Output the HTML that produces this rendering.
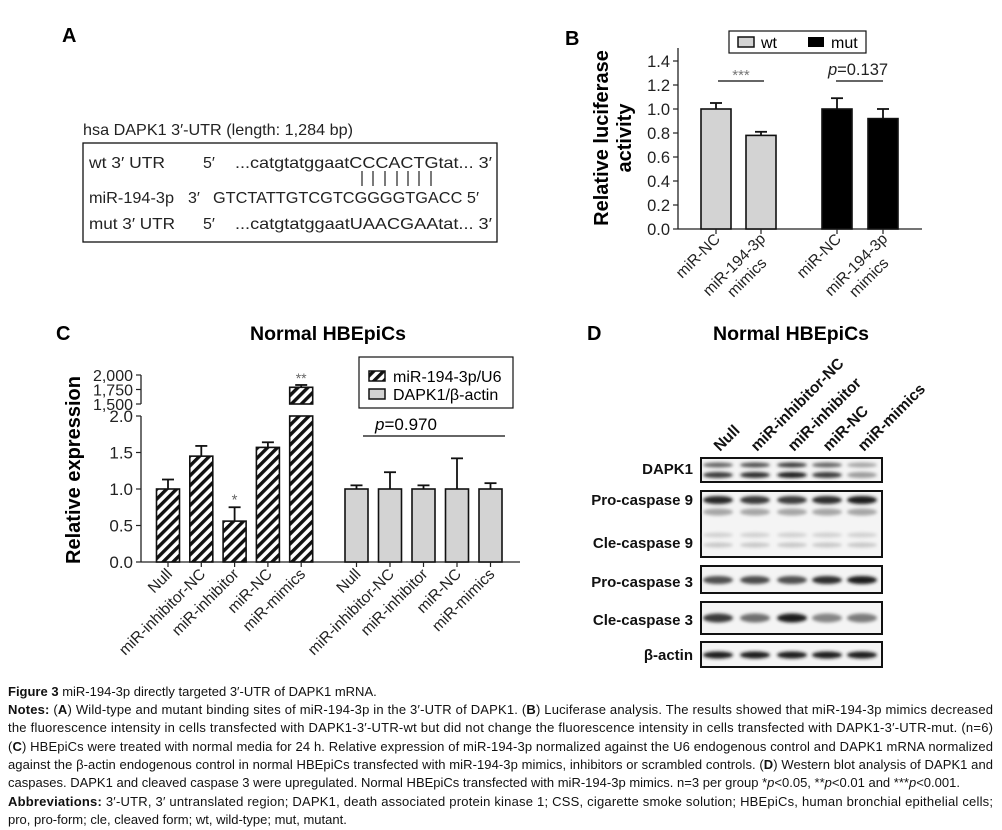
<!DOCTYPE html>
<html><head><meta charset="utf-8">
<style>
html,body{margin:0;padding:0;background:#fff;}
body{width:1002px;height:830px;position:relative;overflow:hidden;font-family:"Liberation Sans",sans-serif;}
</style></head>
<body>
<svg id="fig" width="1002" height="830" style="position:absolute;left:0;top:0" font-family="Liberation Sans, sans-serif">
<defs>
<pattern id="hatch" width="7" height="7" patternUnits="userSpaceOnUse" patternTransform="rotate(45)">
<rect width="7" height="7" fill="#fff"/><rect width="3.4" height="7" fill="#111"/>
</pattern>
<filter id="blur" x="-20%" y="-100%" width="140%" height="300%"><feGaussianBlur stdDeviation="1.6"/></filter>
</defs>

<!-- Panel A -->
<g>
<text x="62" y="42" font-size="20" font-weight="bold">A</text>
<text x="83" y="135" font-size="16" fill="#222" textLength="270" lengthAdjust="spacingAndGlyphs">hsa DAPK1 3′-UTR (length: 1,284 bp)</text>
<rect x="83" y="143" width="414" height="99" fill="none" stroke="#111" stroke-width="1.3"/>
<g font-size="16" fill="#222">
<text x="89" y="168" textLength="76" lengthAdjust="spacingAndGlyphs">wt 3′  UTR</text>
<text x="203" y="168">5′</text>
<text x="235" y="168" textLength="257" lengthAdjust="spacingAndGlyphs">...catgtatggaatCCCACTGtat... 3′</text>
<text x="89" y="203" textLength="85" lengthAdjust="spacingAndGlyphs">miR-194-3p</text>
<text x="188" y="203">3′</text>
<text x="213" y="203" textLength="266" lengthAdjust="spacingAndGlyphs">GTCTATTGTCGTCGGGGTGACC 5′</text>
<text x="89" y="229" textLength="86" lengthAdjust="spacingAndGlyphs">mut 3′  UTR</text>
<text x="203" y="229">5′</text>
<text x="235" y="229" textLength="257" lengthAdjust="spacingAndGlyphs">...catgtatggaatUAACGAAtat... 3′</text>
</g>
<g stroke="#222" stroke-width="1.2">
<line x1="362" y1="171" x2="362" y2="186"/><line x1="373" y1="171" x2="373" y2="186"/><line x1="385" y1="171" x2="385" y2="186"/><line x1="397" y1="171" x2="397" y2="186"/><line x1="408" y1="171" x2="408" y2="186"/><line x1="419" y1="171" x2="419" y2="186"/><line x1="431" y1="171" x2="431" y2="186"/>
</g>
</g>

<!-- Panel B -->
<g id="pb">
<text x="565" y="45" font-size="20" font-weight="bold">B</text>
<rect x="729" y="31" width="137" height="22" fill="#fff" stroke="#111" stroke-width="1.2"/>
<rect x="738" y="37" width="16" height="10" fill="#d3d3d3" stroke="#111" stroke-width="1.5"/>
<text x="761" y="48" font-size="16">wt</text>
<rect x="808" y="37" width="16" height="10" fill="#000"/>
<text x="831" y="48" font-size="16">mut</text>
<text transform="translate(618,138) rotate(-90)" text-anchor="middle" font-size="20" font-weight="bold"><tspan x="0" y="-10">Relative luciferase</tspan><tspan x="0" y="13">activity</tspan></text>
</g>

<!-- Panel C -->
<g id="pc">
<text x="56" y="340" font-size="20" font-weight="bold">C</text>
<text x="328" y="340" text-anchor="middle" font-size="19.5" font-weight="bold">Normal HBEpiCs</text>
<text transform="translate(80,470) rotate(-90)" text-anchor="middle" font-size="20" font-weight="bold">Relative expression</text>
<rect x="359" y="357" width="154" height="51" fill="#fff" stroke="#111" stroke-width="1.2"/>
<rect x="369" y="371" width="16" height="10" fill="url(#hatch)" stroke="#111" stroke-width="1.5"/>
<text x="393" y="382" font-size="16">miR-194-3p/U6</text>
<rect x="369" y="389" width="16" height="10" fill="#d3d3d3" stroke="#111" stroke-width="1.5"/>
<text x="393" y="400" font-size="16">DAPK1/β-actin</text>
<line x1="363" y1="436" x2="505" y2="436" stroke="#333" stroke-width="1.5"/>
<text x="406" y="430" text-anchor="middle" font-size="17"><tspan font-style="italic">p</tspan>=0.970</text>
</g>

<!-- Panel D -->
<g id="pd">
<text x="587" y="340" font-size="20" font-weight="bold">D</text>
<text x="791" y="340" text-anchor="middle" font-size="19.5" font-weight="bold">Normal HBEpiCs</text>
</g>

<!-- Caption -->
<g id="cap" font-size="13" fill="#111">
<text x="8" y="696"><tspan font-weight="bold">Figure 3</tspan> miR-194-3p directly targeted 3′-UTR of DAPK1 mRNA.</text>
<text x="8" y="714" textLength="985" lengthAdjust="spacing"><tspan font-weight="bold">Notes:</tspan> (<tspan font-weight="bold">A</tspan>) Wild-type and mutant binding sites of miR-194-3p in the 3′-UTR of DAPK1. (<tspan font-weight="bold">B</tspan>) Luciferase analysis. The results showed that miR-194-3p mimics decreased</text>
<text x="8" y="732" textLength="985" lengthAdjust="spacing">the fluorescence intensity in cells transfected with DAPK1-3′-UTR-wt but did not change the fluorescence intensity in cells transfected with DAPK1-3′-UTR-mut. (n=6)</text>
<text x="8" y="751" textLength="985" lengthAdjust="spacing">(<tspan font-weight="bold">C</tspan>) HBEpiCs were treated with normal media for 24 h. Relative expression of miR-194-3p normalized against the U6 endogenous control and DAPK1 mRNA normalized</text>
<text x="8" y="769" textLength="985" lengthAdjust="spacing">against the β-actin endogenous control in normal HBEpiCs transfected with miR-194-3p mimics, inhibitors or scrambled controls. (<tspan font-weight="bold">D</tspan>) Western blot analysis of DAPK1 and</text>
<text x="8" y="787" textLength="952" lengthAdjust="spacing">caspases. DAPK1 and cleaved caspase 3 were upregulated. Normal HBEpiCs transfected with miR-194-3p mimics. n=3 per group *<tspan font-style="italic">p</tspan>&lt;0.05, **<tspan font-style="italic">p</tspan>&lt;0.01 and ***<tspan font-style="italic">p</tspan>&lt;0.001.</text>
<text x="8" y="806" textLength="985" lengthAdjust="spacing"><tspan font-weight="bold">Abbreviations:</tspan> 3′-UTR, 3′ untranslated region; DAPK1, death associated protein kinase 1; CSS, cigarette smoke solution; HBEpiCs, human bronchial epithelial cells;</text>
<text x="8" y="824">pro, pro-form; cle, cleaved form; wt, wild-type; mut, mutant.</text>
</g>
</svg>

<script>
const NS='http://www.w3.org/2000/svg';
function mk(parent,tag,attrs,txt){const e=document.createElementNS(NS,tag);for(const k in attrs)e.setAttribute(k,attrs[k]);if(txt!==undefined)e.textContent=txt;parent.appendChild(e);return e;}

// ---- Panel B data ----
const bTicks=[0.0,0.2,0.4,0.6,0.8,1.0,1.2,1.4];
const bWt=[1.0,0.78];
const bWtErr=[0.05,0.03];
const bMut=[1.0,0.92];
const bMutErr=[0.09,0.08];
const bCats=['miR-NC','miR-194-3p|mimics'];

// ---- Panel C data ----
const cCats=['Null','miR-inhibitor-NC','miR-inhibitor','miR-NC','miR-mimics'];
const cMir=[1.0,1.45,0.56,1.57,1788];
const cMirErr=[0.13,0.14,0.19,0.07,40];
const cDapk=[1.0,1.0,1.0,1.0,1.0];
const cDapkErr=[0.05,0.23,0.05,0.42,0.08];
const cTicks=[0.0,0.5,1.0,1.5,2.0];
const cUpperTicks=[1500,1750,2000];
const cUpperLabels=['1,500','1,750','2,000'];
const cStars=['','','*','','**'];

// ---- Panel D data ----
const dLanes=['Null','miR-inhibitor-NC','miR-inhibitor','miR-NC','miR-mimics'];
const dRows=['DAPK1','Pro-caspase 9','Cle-caspase 9','Pro-caspase 3','Cle-caspase 3','β-actin'];
const dDapkUpper=[0.6,0.7,0.8,0.6,0.3];
const dDapkLower=[0.8,0.85,0.95,0.8,0.35];
const dPro9=[0.9,0.8,0.78,0.85,0.95];
const dPro3=[0.7,0.72,0.7,0.85,0.95];
const dCle3=[0.8,0.55,0.95,0.45,0.5];
const dActin=[0.95,0.95,0.95,0.95,0.95];

// ===== Panel B =====
(function(){
  const g=document.getElementById('pb');
  const y=v=>229-v*120;
  const ax=678;
  mk(g,'line',{x1:ax,y1:48,x2:ax,y2:229,stroke:'#222','stroke-width':1.3});
  let e=mk(g,'line',{x1:ax,y1:229,x2:922,y2:229,stroke:'#222','stroke-width':1.3});
  
  
  bTicks.forEach(t=>{
    mk(g,'line',{x1:ax-5,y1:y(t),x2:ax,y2:y(t),stroke:'#222','stroke-width':1.2});
    const l=mk(g,'text',{x:ax-8,y:y(t)+6,'text-anchor':'end','font-size':16.5,fill:'#222'},t.toFixed(1));
    
    
  });
  const xs=[716,761,837,883], w=30;
  const vals=[bWt[0],bWt[1],bMut[0],bMut[1]], errs=[bWtErr[0],bWtErr[1],bMutErr[0],bMutErr[1]];
  vals.forEach((v,i)=>{
    const wt=i<2;
    mk(g,'line',{x1:xs[i],y1:y(v),x2:xs[i],y2:y(v+errs[i]),stroke:'#111','stroke-width':1.8});
    mk(g,'line',{x1:xs[i]-6,y1:y(v+errs[i]),x2:xs[i]+6,y2:y(v+errs[i]),stroke:'#111','stroke-width':1.8});
    const b=mk(g,'rect',{x:xs[i]-w/2,y:y(v),width:w,height:229-y(v),fill:wt?'#d3d3d3':'#000',stroke:'#111','stroke-width':1.6});
    
    
    mk(g,'line',{x1:xs[i],y1:229,x2:xs[i],y2:234,stroke:'#222','stroke-width':1.2});
    const parts=bCats[i%2].split('|');
    const grp=mk(g,'g',{transform:`translate(${xs[i]+5},${240}) rotate(-45)`});
    if(parts.length===1){
      const t=mk(grp,'text',{x:0,y:0,'text-anchor':'end','font-size':15.5,fill:'#222'},parts[0]);
      
      
    }else{
      const t=mk(grp,'text',{x:-40,y:0,'text-anchor':'middle','font-size':15.5,fill:'#222'},parts[0]);
      
      
      const t2=mk(grp,'text',{x:-40,y:18,'text-anchor':'middle','font-size':15.5,fill:'#222'},parts[1]);
      
      
    }
  });
  mk(g,'line',{x1:718,y1:81,x2:764,y2:81,stroke:'#333','stroke-width':1.5});
  mk(g,'text',{x:741,y:80,'text-anchor':'middle','font-size':15,fill:'#777'},'***');
  mk(g,'line',{x1:836,y1:81,x2:883,y2:81,stroke:'#333','stroke-width':1.5});
  const p=mk(g,'text',{x:858,y:75,'text-anchor':'middle','font-size':16.5,fill:'#222'});
  mk(p,'tspan',{'font-style':'italic'},'p');mk(p,'tspan',{},'=0.137');
})();

// ===== Panel C =====
(function(){
  const g=document.getElementById('pc');
  const y=v=>562-v*73;
  const yu=v=>404-(v-1500)*(29/500);
  const ax=141;
  mk(g,'line',{x1:ax,y1:416,x2:ax,y2:562,stroke:'#222','stroke-width':1.3});
  mk(g,'line',{x1:ax,y1:375,x2:ax,y2:404,stroke:'#222','stroke-width':1.3});
  let e=mk(g,'line',{x1:ax,y1:562,x2:520,y2:562,stroke:'#222','stroke-width':1.3});
  
  
  cTicks.forEach(t=>{
    mk(g,'line',{x1:ax-5,y1:y(t),x2:ax,y2:y(t),stroke:'#222','stroke-width':1.2});
    const l=mk(g,'text',{x:ax-8,y:y(t)+6,'text-anchor':'end','font-size':17,fill:'#222'},t.toFixed(1));
    
    
  });
  cUpperTicks.forEach((t,i)=>{
    mk(g,'line',{x1:ax-5,y1:yu(t),x2:ax,y2:yu(t),stroke:'#222','stroke-width':1.2});
    const l=mk(g,'text',{x:ax-8,y:yu(t)+6,'text-anchor':'end','font-size':16,fill:'#222'},cUpperLabels[i]);
    
    
  });
  const w=23;
  const x1=i=>168+i*33.3, x2=i=>356.5+i*33.5;
  cMir.forEach((v,i)=>{
    const cx=x1(i);
    const big=v>2.5;
    if(big){
      const top=yu(v+cMirErr[i]);
      mk(g,'line',{x1:cx,y1:yu(v),x2:cx,y2:top,stroke:'#111','stroke-width':1.8});
      mk(g,'line',{x1:cx-6,y1:top,x2:cx+6,y2:top,stroke:'#111','stroke-width':1.8});
      let b=mk(g,'rect',{x:cx-w/2,y:y(2.0),width:w,height:562-y(2.0),fill:'url(#hatch)',stroke:'#111','stroke-width':1.6});
      
      
      let b2=mk(g,'rect',{x:cx-w/2,y:yu(v),width:w,height:404-yu(v),fill:'url(#hatch)',stroke:'#111','stroke-width':1.6});
      
      
      mk(g,'text',{x:cx,y:top-2,'text-anchor':'middle','font-size':14,fill:'#666'},cStars[i]);
    }else{
      const top=y(v+cMirErr[i]);
      mk(g,'line',{x1:cx,y1:y(v),x2:cx,y2:top,stroke:'#111','stroke-width':1.8});
      mk(g,'line',{x1:cx-6,y1:top,x2:cx+6,y2:top,stroke:'#111','stroke-width':1.8});
      let b=mk(g,'rect',{x:cx-w/2,y:y(v),width:w,height:562-y(v),fill:'url(#hatch)',stroke:'#111','stroke-width':1.6});
      
      
      if(cStars[i]) mk(g,'text',{x:cx,y:top-3,'text-anchor':'middle','font-size':15,fill:'#666'},cStars[i]);
    }
  });
  cDapk.forEach((v,i)=>{
    const cx=x2(i), top=y(v+cDapkErr[i]);
    mk(g,'line',{x1:cx,y1:y(v),x2:cx,y2:top,stroke:'#111','stroke-width':1.8});
    mk(g,'line',{x1:cx-6,y1:top,x2:cx+6,y2:top,stroke:'#111','stroke-width':1.8});
    let b=mk(g,'rect',{x:cx-w/2,y:y(v),width:w,height:562-y(v),fill:'#d3d3d3',stroke:'#111','stroke-width':1.6});
    
    
  });
  [x1,x2].forEach(fx=>cCats.forEach((c,i)=>{
    mk(g,'line',{x1:fx(i),y1:562,x2:fx(i),y2:567,stroke:'#222','stroke-width':1.2});
    const t=mk(g,'text',{transform:`translate(${fx(i)+5},${575}) rotate(-45)`,'text-anchor':'end','font-size':15.5,fill:'#222'},c);
    
    
  }));
})();

// ===== Panel D =====
(function(){
  const g=document.getElementById('pd');
  const lx=[718,755,792,827,862];
  dLanes.forEach((l,i)=>{
    const t=mk(g,'text',{transform:`translate(${lx[i]+2},452) rotate(-45)`,'font-size':15.5,'font-weight':'bold',fill:'#111'},l);
    
    
  });
  const rowY=[469,500,543,582,620,655];
  dRows.forEach((r,i)=>{
    const t=mk(g,'text',{x:693,y:rowY[i]+5,'text-anchor':'end','font-size':15,'font-weight':'bold',fill:'#111'},r);
    
    
  });
  const boxes=[[458,482],[491,557],[566,593],[602,634],[642,667]];
  const boxNames=['blot-dapk1','blot-caspase9','blot-pro-caspase3','blot-cle-caspase3','blot-actin'];
  boxes.forEach((b,i)=>{
    const r=mk(g,'rect',{x:701,y:b[0],width:181,height:b[1]-b[0],fill:'#f4f4f4',stroke:'#111','stroke-width':2});
    
    
  });
  const band=(cx,cy,h,int)=>{
    const c=Math.round(230-int*215);
    mk(g,'ellipse',{cx:cx,cy:cy,rx:15,ry:h,fill:`rgb(${c},${c},${c})`,filter:'url(#blur)'});
  };
  lx.forEach((cx,i)=>{
    band(cx,465,2.5,dDapkUpper[i]);
    band(cx,475,3,dDapkLower[i]);
    band(cx,500,4,dPro9[i]);
    band(cx,512,3.5,0.3);
    band(cx,535,2.5,0.1);
    band(cx,545,2.5,0.14);
    band(cx,580,4,dPro3[i]);
    band(cx,618,4.5,dCle3[i]);
    band(cx,655,3.5,dActin[i]);
  });
})();
</script>
</body></html>
